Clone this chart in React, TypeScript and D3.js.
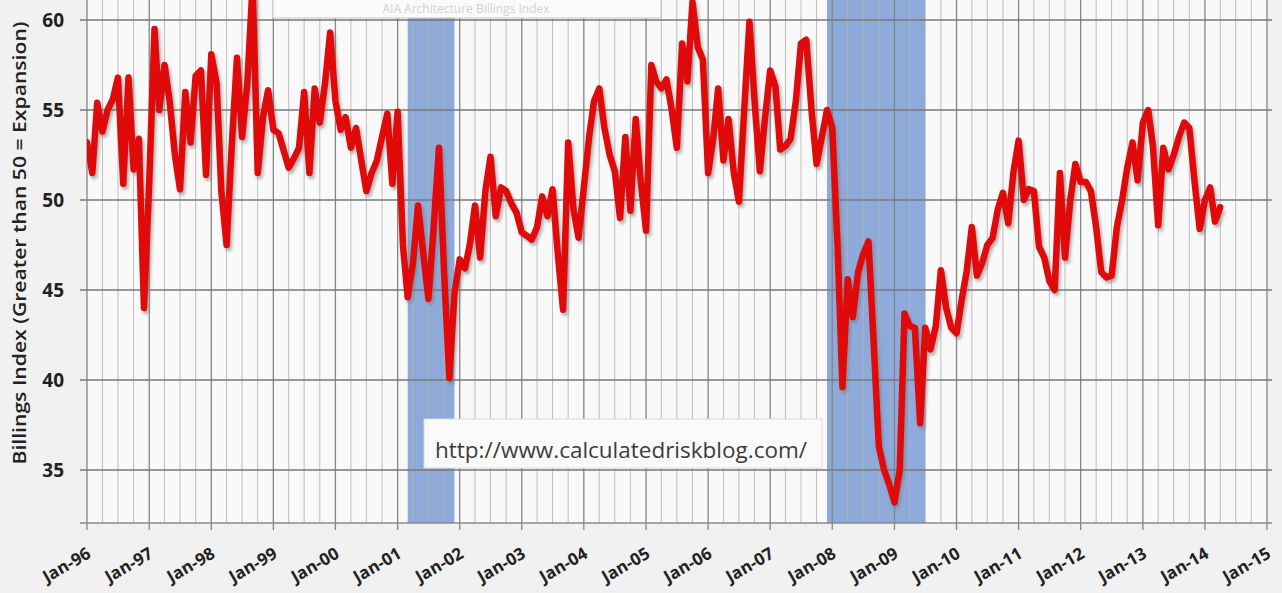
import React from "react";
import * as d3 from "d3";

// Architecture Billings Index, monthly, Jan 1996 – Apr 2014
const abi1996 = [53.2, 51.5, 55.4, 53.8, 55.0, 55.6, 56.8, 50.9, 56.8, 51.7, 53.4, 44.0];
const abi1997 = [51.0, 59.5, 55.0, 57.5, 55.5, 52.5, 50.6, 56.0, 53.2, 56.9, 57.2, 51.4];
const abi1998 = [58.1, 56.5, 50.5, 47.5, 53.0, 57.9, 53.5, 56.5, 62.0, 51.5, 54.6, 56.1];
const abi1999 = [53.9, 53.7, 52.8, 51.8, 52.3, 52.9, 56.0, 51.5, 56.2, 54.3, 56.5, 59.3];
const abi2000 = [55.5, 53.9, 54.6, 52.9, 54.0, 52.2, 50.5, 51.5, 52.2, 53.5, 54.8, 50.9];
const abi2001 = [54.9, 47.5, 44.6, 46.5, 49.7, 47.0, 44.5, 48.5, 52.9, 46.0, 40.1, 44.8];
const abi2002 = [46.7, 46.2, 47.5, 49.7, 46.8, 50.5, 52.4, 49.1, 50.7, 50.5, 49.8, 49.3];
const abi2003 = [48.2, 48.0, 47.8, 48.5, 50.2, 49.1, 50.6, 47.0, 43.9, 53.2, 49.5, 47.9];
const abi2004 = [50.7, 53.5, 55.5, 56.2, 54.0, 52.5, 51.6, 49.0, 53.5, 49.4, 54.5, 51.0];
const abi2005 = [48.3, 57.5, 56.6, 56.2, 56.7, 55.0, 52.9, 58.7, 56.6, 61.0, 58.5, 57.8];
const abi2006 = [51.5, 53.5, 56.2, 52.2, 54.5, 51.5, 49.9, 55.0, 59.9, 55.5, 51.6, 54.5];
const abi2007 = [57.2, 56.3, 52.8, 53.0, 53.4, 55.5, 58.7, 58.9, 55.0, 52.0, 53.5, 55.0];
const abi2008 = [54.0, 47.5, 39.6, 45.6, 43.5, 46.0, 47.0, 47.7, 42.0, 36.3, 35.0, 34.2];
const abi2009 = [33.2, 35.0, 43.7, 43.0, 42.9, 37.6, 42.9, 41.7, 43.0, 46.1, 44.0, 42.9];
const abi2010 = [42.6, 44.5, 46.0, 48.5, 45.8, 46.5, 47.5, 47.9, 49.5, 50.4, 48.7, 51.5];
const abi2011 = [53.3, 50.0, 50.6, 50.5, 47.4, 46.8, 45.5, 45.0, 51.5, 46.8, 50.0, 52.0];
const abi2012 = [51.0, 51.0, 50.5, 48.5, 46.0, 45.7, 45.8, 48.5, 50.0, 51.8, 53.2, 51.1];
const abi2013 = [54.3, 55.0, 53.0, 48.6, 52.9, 51.7, 52.5, 53.5, 54.3, 54.0, 51.0, 48.4];
const abi2014 = [50.0, 50.7, 48.8, 49.6];

const abiValues = [
  ...abi1996, ...abi1997, ...abi1998, ...abi1999, ...abi2000, ...abi2001, ...abi2002,
  ...abi2003, ...abi2004, ...abi2005, ...abi2006, ...abi2007, ...abi2008, ...abi2009,
  ...abi2010, ...abi2011, ...abi2012, ...abi2013, ...abi2014,
];

const yTicks = [35, 40, 45, 50, 55, 60];
const xTickLabels = [
  "Jan-96", "Jan-97", "Jan-98", "Jan-99", "Jan-00", "Jan-01", "Jan-02", "Jan-03", "Jan-04", "Jan-05",
  "Jan-06", "Jan-07", "Jan-08", "Jan-09", "Jan-10", "Jan-11", "Jan-12", "Jan-13", "Jan-14", "Jan-15",
];
const recessionStarts = ["2001-03-01", "2007-12-01"];
const recessionEnds = ["2001-12-01", "2009-07-01"];

const yAxisTitle = "Billings Index (Greater than 50 = Expansion)";
const chartTitle = "AIA Architecture Billings Index";
const sourceText = "http://www.calculatedriskblog.com/";

const W = 1282;
const H = 593;
const plotLeft = 87;
const plotRight = 1267;
const plotBottom = 523;
const plotTop = -10;

export default function App() {
  const x = d3
    .scaleTime()
    .domain([new Date(1996, 0, 1), new Date(2015, 0, 1)])
    .range([plotLeft, plotRight]);
  const y = d3.scaleLinear().domain([35, 60]).range([470, 20]);

  const data = abiValues.map((v, i) => ({ date: new Date(1996, i, 1), v }));
  const line = d3
    .line<{ date: Date; v: number }>()
    .x((d) => x(d.date))
    .y((d) => y(d.v));
  const pathD = line(data) || "";

  const yearTicks = xTickLabels.map((_, i) => new Date(1996 + i, 0, 1));
  const quarterTicks = d3.timeMonth
    .every(3)!
    .range(new Date(1996, 0, 1), new Date(2015, 0, 2))
    .filter((d) => d.getMonth() !== 0);

  const font = "'Open Sans', 'DejaVu Sans', sans-serif";

  return (
    <svg
      width={W}
      height={H}
      style={{ position: "absolute", left: 0, top: 0, display: "block" }}
    >
      <defs>
        <filter id="blur" x="-5%" y="-5%" width="110%" height="110%">
          <feGaussianBlur stdDeviation="1.6" />
        </filter>
        <clipPath id="plotClip">
          <rect x={plotLeft} y={plotTop} width={plotRight - plotLeft} height={plotBottom - plotTop} />
        </clipPath>
      </defs>
      <rect x={0} y={0} width={W} height={H} fill="#f1f1f1" />
      <rect x={plotLeft} y={plotTop} width={plotRight - plotLeft} height={plotBottom - plotTop} fill="#f9f9f9" />

      {/* recession bands */}
      {recessionStarts.map((s, i) => {
        const x0 = x(new Date(s));
        const x1 = x(new Date(recessionEnds[i]));
        return (
          <rect key={s} x={x0} y={plotTop} width={x1 - x0} height={plotBottom - plotTop} fill="#8eaadb" />
        );
      })}

      {/* quarterly gridlines */}
      {quarterTicks.map((d) => (
        <line
          key={+d}
          x1={x(d)}
          x2={x(d)}
          y1={plotTop}
          y2={plotBottom}
          stroke="#b4b4b4"
          strokeOpacity={0.85}
          strokeWidth={1}
        />
      ))}
      {/* yearly gridlines */}
      {yearTicks.map((d) => (
        <line
          key={+d}
          x1={x(d)}
          x2={x(d)}
          y1={plotTop}
          y2={plotBottom + 7}
          stroke="#858585"
          strokeWidth={1.3}
        />
      ))}
      {/* horizontal gridlines */}
      {yTicks.map((t) => (
        <line key={t} x1={80} x2={1272} y1={y(t)} y2={y(t)} stroke="#777" strokeWidth={1.4} />
      ))}
      <line x1={80} x2={1272} y1={plotBottom} y2={plotBottom} stroke="#8a8a8a" strokeWidth={1.4} />

      {/* title box (cut at top) */}
      <rect x={273} y={-20} width={388} height={38} fill="#fbfbfb" stroke="#c8c8c8" strokeWidth={1} />
      <text x={466} y={13} textAnchor="middle" fontFamily={font} fontSize={12} fill="#d2d2d2">
        {chartTitle}
      </text>

      {/* data line */}
      <g clipPath="url(#plotClip)">
        <path
          d={pathD}
          fill="none"
          stroke="#777"
          strokeOpacity={0.55}
          strokeWidth={6.5}
          strokeLinejoin="round"
          transform="translate(2,3)"
          filter="url(#blur)"
        />
        <path d={pathD} fill="none" stroke="#e00a0a" strokeWidth={6.5} strokeLinejoin="round" strokeLinecap="round" />
      </g>

      {/* source box */}
      <rect x={424} y={419} width={398} height={49} fill="#fafafa" stroke="#dcdcdc" strokeWidth={1} />
      <text
        x={435}
        y={458}
        fontFamily={font}
        fontSize={21}
        fill="#3c3c3c"
        textLength={372}
        lengthAdjust="spacingAndGlyphs"
      >
        {sourceText}
      </text>

      {/* y tick labels */}
      {yTicks.map((t) => (
        <text
          key={t}
          x={64}
          y={y(t) + 7}
          textAnchor="end"
          fontFamily={font}
          fontWeight={700}
          fontSize={19}
          fill="#222"
        >
          {t}
        </text>
      ))}

      {/* y axis title */}
      <text
        transform={`translate(26,${243}) rotate(-90)`}
        textAnchor="middle"
        fontFamily={font}
        fontWeight={600}
        fontSize={18}
        fill="#222"
        textLength={443}
        lengthAdjust="spacingAndGlyphs"
      >
        {yAxisTitle}
      </text>

      {/* x tick labels */}
      {xTickLabels.map((lab, i) => (
        <text
          key={lab}
          transform={`translate(${x(yearTicks[i]) + 5},${557}) rotate(-30)`}
          textAnchor="end"
          fontFamily={font}
          fontWeight={700}
          fontSize={17}
          fill="#222"
        >
          {lab}
        </text>
      ))}
    </svg>
  );
}
